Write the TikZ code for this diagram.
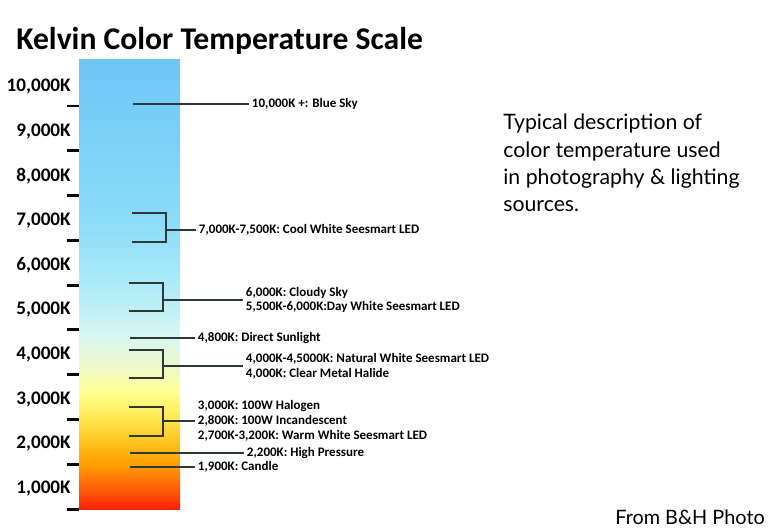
\documentclass[tikz,border=0pt]{standalone}
\usepackage{fontspec}
\setmainfont{Carlito}
\newfontfamily\descfont{Lato}
\usetikzlibrary{positioning}

\definecolor{leadgray}{HTML}{2E3838}
\definecolor{kA}{HTML}{FF1E00}
\definecolor{kB}{HTML}{FF5A0A}
\definecolor{kC}{HTML}{FF9C00}
\definecolor{kD}{HTML}{FFC622}
\definecolor{kE}{HTML}{FFEC58}
\definecolor{kF}{HTML}{FFFF96}
\definecolor{kG}{HTML}{EEF8CC}
\definecolor{kH}{HTML}{D6F6F0}
\definecolor{kI}{HTML}{B0ECF8}
\definecolor{kJ}{HTML}{8ADCF8}
\definecolor{kK}{HTML}{6EC6F5}
% bottom (red) to top (blue); the bar spans 25bp--75bp
\pgfdeclareverticalshading{kelvin}{100bp}{color(0bp)=(kA); color(25bp)=(kA);
  color(27.2bp)=(kB); color(30bp)=(kC); color(32.8bp)=(kD); color(35.6bp)=(kE);
  color(38.3bp)=(kF); color(41.1bp)=(kG); color(44.4bp)=(kH); color(49.4bp)=(kI);
  color(57.2bp)=(kJ); color(75bp)=(kK); color(100bp)=(kK)}

\begin{document}
\begin{tikzpicture}[
  x=0.02cm, y=-0.02cm,
  tickmark/.style={line width=1.7pt, black},
  lead/.style={draw=leadgray, line width=1pt},
  note/.style={font=\bfseries\fontsize{7.4}{8.4}\selectfont, anchor=west,
               inner sep=1.5pt, align=left},
  axlbl/.style={font=\bfseries\fontsize{10.9}{13}\selectfont, anchor=east, inner sep=0pt}
]
\useasboundingbox (0,0) rectangle (779,530);

% --- Title ---
\node[anchor=base west, inner sep=0pt, font=\bfseries\fontsize{18}{20}\selectfont]
  (title) at (16,50) {Kelvin Color Temperature Scale};

% --- Scale bar ---
\shade[shading=kelvin] (79,60) rectangle (180,510);
\foreach \t [count=\i from 0] in {10,9,...,1} {
  \draw[tickmark] (67,{106+44.78*\i}) -- (79,{106+44.78*\i});
  \node[axlbl] (k\t) at (71,{87+44.6*\i}) {\t,000K};
}

% --- Notes ---
\node[note] (sky)   at (249,104) {10,000K +: Blue Sky};
\node[note] (cool)  at (196,230) {7,000K-7,500K: Cool White Seesmart LED};
\node[note] (cloud) at (243,300) {6,000K: Cloudy Sky\\5,500K-6,000K:Day White Seesmart LED};
\node[note] (sun)   at (195,338) {4,800K: Direct Sunlight};
\node[note] (nat)   at (243,366) {4,000K-4,5000K: Natural White Seesmart LED\\4,000K: Clear Metal Halide};
\node[note] (halo)  at (195,421) {3,000K: 100W Halogen\\2,800K: 100W Incandescent\\2,700K-3,200K: Warm White Seesmart LED};
\node[note] (hp)    at (244,453) {2,200K: High Pressure};
\node[note] (cand)  at (195,467) {1,900K: Candle};

% --- Bracket ends ---
\coordinate (sky-a)   at (133,104);
\coordinate (cool-t)  at (132,213);
\coordinate (cool-b)  at (132,242);
\coordinate (cloud-t) at (129,283);
\coordinate (cloud-b) at (129,311);
\coordinate (sun-a)   at (130,338);
\coordinate (nat-t)   at (129,350);
\coordinate (nat-b)   at (129,378);
\coordinate (halo-t)  at (129,407);
\coordinate (halo-b)  at (129,436);
\coordinate (hp-a)    at (130,453);
\coordinate (cand-a)  at (130,467);

% --- Leads ---
\draw[lead] (sky-a) -- (sky.west);
\draw[lead] (cool-t) -- ++(34,0) coordinate (cool-j) |- (cool-b);
\draw[lead] (cool-j |- cool.west) -- (cool.west);
\draw[lead] (cloud-t) -- ++(34,0) coordinate (cloud-j) |- (cloud-b);
\draw[lead] (cloud-j |- cloud.west) -- (cloud.west);
\draw[lead] (sun-a) -- (sun.west);
\draw[lead] (nat-t) -- ++(34,0) coordinate (nat-j) |- (nat-b);
\draw[lead] (nat-j |- nat.west) -- (nat.west);
\draw[lead] (halo-t) -- ++(34,0) coordinate (halo-j) |- (halo-b);
\draw[lead] (halo-j |- halo.west) -- (halo.west);
\draw[lead] (hp-a) -- (hp.west);
\draw[lead] (cand-a) -- (cand.west);

% --- Side texts ---
\node[anchor=base west, inner sep=0pt, align=left, font=\descfont\fontsize{12.1}{15.6}\selectfont]
  (desc) at (503,212) {Typical description of\\color temperature used\\in photography \& lighting\\sources.};
\node[anchor=base west, inner sep=0pt, font=\descfont\fontsize{11.3}{12}\selectfont]
  (src) at (615,525) {From B\&H Photo};

\end{tikzpicture}
\end{document}
